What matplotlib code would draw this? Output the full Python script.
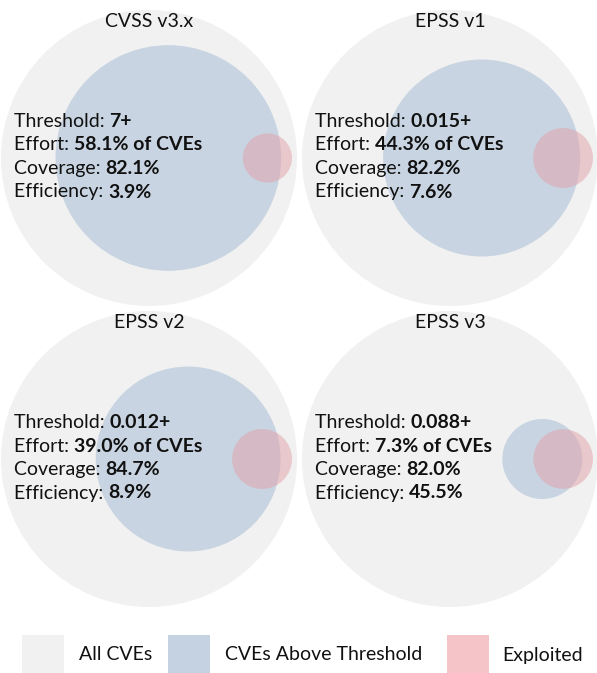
import numpy as np
import matplotlib
matplotlib.use("Agg")
import matplotlib.pyplot as plt
from matplotlib.patches import Circle, Rectangle

# ---- data ----
models = ["CVSS v3.x", "EPSS v1", "EPSS v2", "EPSS v3"]
thresholds = ["7+", "0.015+", "0.012+", "0.088+"]
effort = [58.1, 44.3, 39.0, 7.3]        # % of CVEs above threshold
coverage = [82.1, 82.2, 84.7, 82.0]     # % of exploited captured
efficiency = [3.9, 7.6, 8.9, 45.5]      # % of flagged that are exploited
legend_labels = ["All CVEs", "CVEs Above Threshold", "Exploited"]

# ---- style ----
FONT = "Lato"
FS = 14
TXT = "#111111"
GRAY = "#f1f1f1"
BLUE = "#c8d4e1"
PINK = "#e2a0a8"
LEG_COLORS = ["#f1f1f1", "#c5d2e1", "#f4c4c8"]

plt.rcParams["font.family"] = [FONT, "DejaVu Sans"]

W, H = 597, 673
fig = plt.figure(figsize=(W / 100, H / 100), dpi=100)
ax = fig.add_axes([0, 0, 1, 1])
ax.set_xlim(0, W)
ax.set_ylim(H, 0)
ax.axis("off")

R = 148.0               # radius of the "All CVEs" circle in px
MARGIN = 5.0
centers_x = [149, 450, 149, 450]
centers_y = [158, 158, 459, 459]


def overlap_area(r1, r2, d):
    if d >= r1 + r2:
        return 0.0
    if d <= abs(r1 - r2):
        return np.pi * min(r1, r2) ** 2
    a1 = r1 ** 2 * np.arccos((d ** 2 + r1 ** 2 - r2 ** 2) / (2 * d * r1))
    a2 = r2 ** 2 * np.arccos((d ** 2 + r2 ** 2 - r1 ** 2) / (2 * d * r2))
    a3 = 0.5 * np.sqrt((-d + r1 + r2) * (d + r1 - r2) * (d - r1 + r2) * (d + r1 + r2))
    return a1 + a2 - a3


def solve_distance(r1, r2, target):
    lo, hi = abs(r1 - r2) + 1e-9, r1 + r2
    for _ in range(100):
        mid = 0.5 * (lo + hi)
        if overlap_area(r1, r2, mid) > target:
            lo = mid
        else:
            hi = mid
    return 0.5 * (lo + hi)


renderer = fig.canvas.get_renderer()
inv = ax.transData.inverted()

for i in range(4):
    cx, cy = centers_x[i], centers_y[i]
    e = effort[i] / 100.0
    c = coverage[i] / 100.0
    f = efficiency[i] / 100.0
    exploited = f * e / c
    r_b = R * np.sqrt(e)
    r_p = R * np.sqrt(exploited)
    px = cx + R - r_p - MARGIN
    d = solve_distance(r_b, r_p, c * np.pi * r_p ** 2)
    bx = px - d

    ax.add_patch(Circle((cx, cy), R, facecolor=GRAY, edgecolor="none", zorder=1))
    ax.add_patch(Circle((bx, cy), r_b, facecolor=BLUE, edgecolor="none", zorder=2))
    ax.add_patch(Circle((px, cy), r_p, facecolor=PINK, edgecolor="none",
                        alpha=0.5, zorder=3))

    ax.text(cx, cy - 131, models[i], ha="center", va="baseline",
            fontsize=FS, color=TXT, zorder=5)

    lines = [("Threshold: ", thresholds[i]),
             ("Effort: ", f"{effort[i]:.1f}% of CVEs"),
             ("Coverage: ", f"{coverage[i]:.1f}%"),
             ("Efficiency: ", f"{efficiency[i]:.1f}%")]
    offsets = [-31, -7.5, 16, 39.5]
    tx = cx - 135
    for (lab, val), off in zip(lines, offsets):
        t = ax.text(tx, cy + off, lab, ha="left", va="baseline",
                    fontsize=FS, color=TXT, zorder=5)
        bb = t.get_window_extent(renderer)
        x1 = inv.transform((bb.x1, bb.y0))[0]
        ax.text(x1, cy + off, val, ha="left", va="baseline", fontsize=FS,
                fontweight="bold", color=TXT, zorder=5)

# ---- legend ----
sq_x = [22, 168, 447]
txt_x = [79, 225, 502]
for lab, col, sx, tx in zip(legend_labels, LEG_COLORS, sq_x, txt_x):
    ax.add_patch(Rectangle((sx, 635), 42, 38, facecolor=col, edgecolor="none"))
    ax.text(tx, 655, lab, ha="left", va="center", fontsize=FS, color=TXT)

fig.savefig("out.png", dpi=100)
